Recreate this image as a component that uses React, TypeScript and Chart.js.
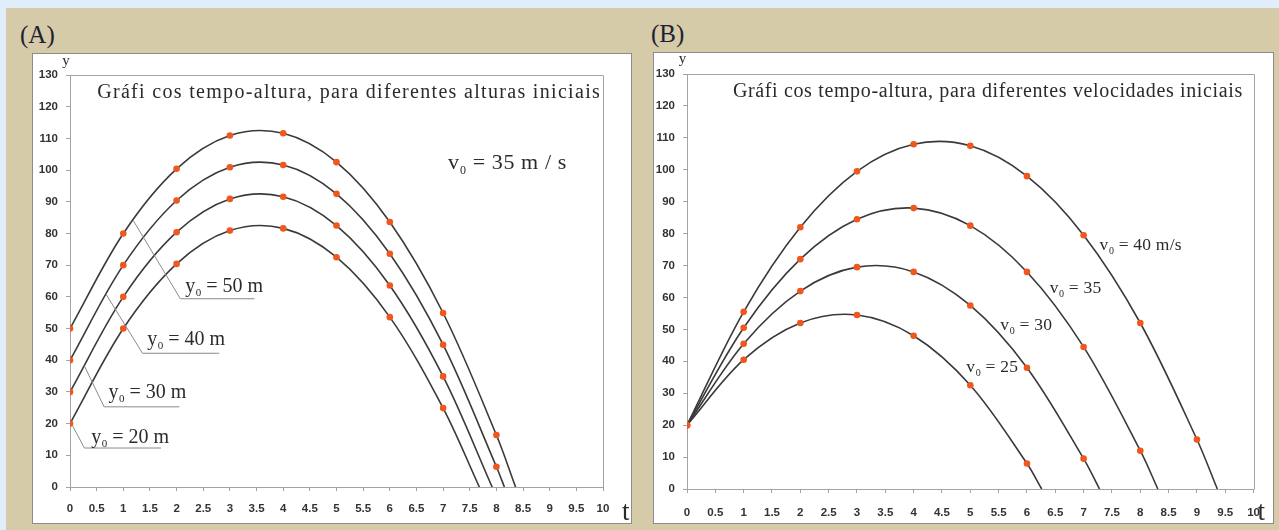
import React, { useEffect, useRef } from "react";
import { Chart, registerables } from "chart.js";

Chart.register(...registerables);

// ---------- data ----------
// Panel A: v0 = 35 m/s, different initial heights
const seriesLabelsA = ["y0 = 50 m", "y0 = 40 m", "y0 = 30 m", "y0 = 20 m"];
const timesA50 = [0, 1, 2, 3, 4, 5, 6, 7, 8, 8.36];
const heightsA50 = [50, 80, 100.4, 110.9, 111.6, 102.5, 83.6, 54.9, 16.4, 0];
const timesA40 = [0, 1, 2, 3, 4, 5, 6, 7, 8, 8.15];
const heightsA40 = [40, 70, 90.4, 100.9, 101.6, 92.5, 73.6, 44.9, 6.4, 0];
const timesA30 = [0, 1, 2, 3, 4, 5, 6, 7, 7.92];
const heightsA30 = [30, 60, 80.4, 90.9, 91.6, 82.5, 63.6, 34.9, 0];
const timesA20 = [0, 1, 2, 3, 4, 5, 6, 7, 7.68];
const heightsA20 = [20, 50, 70.4, 80.9, 81.6, 72.5, 53.6, 24.9, 0];

// Panel B: y0 = 20 m, different initial velocities
const seriesLabelsB = ["v0 = 40 m/s", "v0 = 35", "v0 = 30", "v0 = 25"];
const timesB40 = [0, 1, 2, 3, 4, 5, 6, 7, 8, 9, 9.36];
const heightsB40 = [20, 55.5, 82, 99.5, 108, 107.5, 98, 79.5, 52, 15.5, 0];
const timesB35 = [0, 1, 2, 3, 4, 5, 6, 7, 8, 8.31];
const heightsB35 = [20, 50.5, 72, 84.5, 88, 82.5, 68, 44.5, 12, 0];
const timesB30 = [0, 1, 2, 3, 4, 5, 6, 7, 7.28];
const heightsB30 = [20, 45.5, 62, 69.5, 68, 57.5, 38, 9.5, 0];
const timesB25 = [0, 1, 2, 3, 4, 5, 6, 6.26];
const heightsB25 = [20, 40.5, 52, 54.5, 48, 32.5, 8, 0];

// axes
const xMin = 0;
const xMax = 10;
const xStep = 0.5;
const yMin = 0;
const yMax = 130;
const yStep = 10;

const titleA = "Gráfi cos tempo-altura, para diferentes alturas iniciais";
const titleB = "Gráfi cos tempo-altura, para diferentes velocidades iniciais";

// ---------- styles ----------
const BLUE = "#dfeef8";
const BEIGE = "#d5cba8";
const AXIS = "#a3a3a3";
const CURVE = "#3a3a3a";
const DOT = "#f0561d";
const INK = "#2b2b2b";
const SERIF = '"Liberation Serif", "Times New Roman", serif';
const SANS = '"Liberation Sans", Arial, sans-serif';

type Note =
  | { kind: "text"; t: number; y: number; text: string; size: number; toT: number }
  | { kind: "sub"; t: number; y: number; base: string; sub: string; rest: string; size: number; spacing?: number }
  | { kind: "line"; pts: [number, number][] }
  | { kind: "axisY"; dx: number; dy: number; size: number }
  | { kind: "axisT"; dx: number; dy: number; size: number };

const notesPlugin = {
  id: "notes",
  afterDatasetsDraw(chart: any, _args: any, opts: any) {
    const notes: Note[] = opts.items || [];
    const ctx = chart.ctx as CanvasRenderingContext2D;
    const xs = chart.scales.x;
    const ys = chart.scales.y;
    const area = chart.chartArea;
    ctx.save();
    ctx.fillStyle = INK;
    ctx.textBaseline = "alphabetic";
    ctx.textAlign = "left";
    for (const n of notes) {
      if (n.kind === "line") {
        ctx.strokeStyle = "#8a8a8a";
        ctx.lineWidth = 1;
        ctx.beginPath();
        n.pts.forEach(([t, y], i) => {
          const px = xs.getPixelForValue(t);
          const py = ys.getPixelForValue(y);
          if (i === 0) ctx.moveTo(px, py);
          else ctx.lineTo(px, py);
        });
        ctx.stroke();
      } else if (n.kind === "text") {
        ctx.font = `${n.size}px ${SERIF}`;
        const x0 = xs.getPixelForValue(n.t);
        const x1 = xs.getPixelForValue(n.toT);
        const w = ctx.measureText(n.text).width;
        const sp = Math.max(0, (x1 - x0 - w) / (n.text.length - 1));
        (ctx as any).letterSpacing = `${sp}px`;
        ctx.fillText(n.text, x0, ys.getPixelForValue(n.y));
        (ctx as any).letterSpacing = "0px";
      } else if (n.kind === "sub") {
        let px = xs.getPixelForValue(n.t);
        const py = ys.getPixelForValue(n.y);
        (ctx as any).letterSpacing = `${n.spacing || 0}px`;
        ctx.font = `${n.size}px ${SERIF}`;
        ctx.fillText(n.base, px, py);
        px += ctx.measureText(n.base).width + 0.5;
        ctx.font = `${Math.round(n.size * 0.55)}px ${SERIF}`;
        ctx.fillText(n.sub, px, py + n.size * 0.22);
        px += ctx.measureText(n.sub).width;
        ctx.font = `${n.size}px ${SERIF}`;
        ctx.fillText(n.rest, px, py);
        (ctx as any).letterSpacing = "0px";
      } else if (n.kind === "axisY") {
        ctx.font = `${n.size}px ${SERIF}`;
        ctx.textAlign = "center";
        ctx.fillText("y", area.left + n.dx, area.top + n.dy);
        ctx.textAlign = "left";
      } else if (n.kind === "axisT") {
        ctx.font = `${n.size}px ${SERIF}`;
        ctx.fillText("t", area.right + n.dx, area.bottom + n.dy);
      }
    }
    ctx.restore();
  },
};

const framePlugin = {
  id: "frame",
  beforeDatasetsDraw(chart: any) {
    const ctx = chart.ctx as CanvasRenderingContext2D;
    const a = chart.chartArea;
    ctx.save();
    ctx.strokeStyle = AXIS;
    ctx.lineWidth = 1;
    ctx.beginPath();
    ctx.moveTo(Math.round(a.left) + 0.5, Math.round(a.top) + 0.5);
    ctx.lineTo(Math.round(a.right) + 0.5, Math.round(a.top) + 0.5);
    ctx.lineTo(Math.round(a.right) + 0.5, Math.round(a.bottom) + 0.5);
    ctx.stroke();
    ctx.restore();
  },
};

function curve(label: string, times: number[], heights: number[]) {
  return {
    label,
    data: times.map((t, i) => ({ x: t, y: heights[i] })),
    borderColor: CURVE,
    borderWidth: 1.6,
    tension: 0.34,
    fill: false,
    pointRadius: times.map((_, i) => (i === times.length - 1 ? 0 : 3.3)),
    pointBackgroundColor: DOT,
    pointBorderWidth: 0,
    pointHoverRadius: 0,
  };
}

type Dims = { yw: number; xh: number; top: number; right: number; xPad: number };

function makeConfig(datasets: any[], notes: Note[], d: Dims): any {
  const tickFont = { family: SANS, size: 11.5, weight: "bold" as const };
  return {
    type: "line",
    data: { datasets },
    options: {
      animation: false,
      responsive: false,
      devicePixelRatio: 1,
      events: [],
      layout: { padding: { left: 0, right: d.right, top: d.top, bottom: 0 } },
      scales: {
        x: {
          type: "linear",
          min: xMin,
          max: xMax,
          ticks: {
            stepSize: xStep,
            autoSkip: false,
            maxRotation: 0,
            font: tickFont,
            color: "#333",
            padding: d.xPad,
            callback: (v: any) => String(Math.round(Number(v) * 10) / 10),
          },
          grid: { drawOnChartArea: false, tickLength: 4, color: AXIS },
          border: { color: AXIS, width: 1 },
          afterFit: (s: any) => {
            s.height = d.xh;
          },
        },
        y: {
          type: "linear",
          min: yMin,
          max: yMax,
          ticks: { stepSize: yStep, font: tickFont, color: "#333", padding: 8 },
          grid: { drawOnChartArea: false, tickLength: 4, color: AXIS },
          border: { color: AXIS, width: 1 },
          afterFit: (s: any) => {
            s.width = d.yw;
          },
        },
      },
      plugins: {
        legend: { display: false },
        tooltip: { enabled: false },
        notes: { items: notes },
      },
    },
    plugins: [framePlugin, notesPlugin],
  };
}

const notesA: Note[] = [
  { kind: "text", t: 0.51, y: 122.9, text: titleA, size: 20, toT: 9.94 },
  { kind: "sub", t: 7.09, y: 100.2, base: "v", sub: "0", rest: " = 35 m / s", size: 22, spacing: 0.6 },
  { kind: "line", pts: [[1.19, 84], [2.07, 59.4], [3.46, 59.4]] },
  { kind: "sub", t: 2.16, y: 61.6, base: "y", sub: "0", rest: " = 50 m", size: 20 },
  { kind: "line", pts: [[0.67, 61], [1.36, 42.2], [2.8, 42.2]] },
  { kind: "sub", t: 1.45, y: 44.9, base: "y", sub: "0", rest: " = 40 m", size: 20 },
  { kind: "line", pts: [[0.27, 38.2], [0.64, 25.3], [2.05, 25.3]] },
  { kind: "sub", t: 0.72, y: 28.1, base: "y", sub: "0", rest: " = 30 m", size: 20 },
  { kind: "line", pts: [[0.04, 19.6], [0.27, 12.3], [1.71, 12.3]] },
  { kind: "sub", t: 0.4, y: 13.9, base: "y", sub: "0", rest: " = 20 m", size: 20 },
  { kind: "axisY", dx: -4, dy: -10, size: 15 },
  { kind: "axisT", dx: 19, dy: 33, size: 27 },
];

const notesB: Note[] = [
  { kind: "text", t: 0.81, y: 122.9, text: titleB, size: 20, toT: 9.8 },
  { kind: "sub", t: 7.28, y: 74.8, base: "v", sub: "0", rest: " = 40 m/s", size: 17.5, spacing: 0.2 },
  { kind: "sub", t: 6.4, y: 61.4, base: "v", sub: "0", rest: " = 35", size: 17.5, spacing: 0.2 },
  { kind: "sub", t: 5.53, y: 49.9, base: "v", sub: "0", rest: " = 30", size: 17.5, spacing: 0.2 },
  { kind: "sub", t: 4.93, y: 36.5, base: "v", sub: "0", rest: " = 25", size: 17.5, spacing: 0.2 },
  { kind: "axisY", dx: -4.5, dy: -11, size: 15 },
  { kind: "axisT", dx: 4, dy: 31, size: 27 },
];

function Panel(props: {
  left: number;
  top: number;
  width: number;
  height: number;
  datasets: any[];
  notes: Note[];
  dims: Dims;
}) {
  const ref = useRef<HTMLCanvasElement | null>(null);
  const cw = props.width - 2;
  const ch = props.height - 2;
  useEffect(() => {
    if (!ref.current) return;
    const chart = new Chart(ref.current, makeConfig(props.datasets, props.notes, props.dims));
    return () => chart.destroy();
  }, []);
  return (
    <div
      style={{
        position: "absolute",
        left: props.left,
        top: props.top,
        width: props.width,
        height: props.height,
        boxSizing: "border-box",
        border: "1px solid #8c8c8c",
        background: "#ffffff",
      }}
    >
      <canvas ref={ref} width={cw} height={ch} style={{ display: "block", width: cw, height: ch }} />
    </div>
  );
}

export default function App() {
  const dsA = [
    curve(seriesLabelsA[0], timesA50, heightsA50),
    curve(seriesLabelsA[1], timesA40, heightsA40),
    curve(seriesLabelsA[2], timesA30, heightsA30),
    curve(seriesLabelsA[3], timesA20, heightsA20),
  ];
  const dsB = [
    curve(seriesLabelsB[0], timesB40, heightsB40),
    curve(seriesLabelsB[1], timesB35, heightsB35),
    curve(seriesLabelsB[2], timesB30, heightsB30),
    curve(seriesLabelsB[3], timesB25, heightsB25),
  ];
  const labelStyle: React.CSSProperties = {
    position: "absolute",
    fontFamily: SERIF,
    fontSize: 25,
    lineHeight: "25px",
    color: "#1f2133",
  };
  return (
    <div style={{ position: "absolute", left: 0, top: 0, width: 1279, height: 530, background: BLUE, overflow: "hidden" }}>
      <div style={{ position: "absolute", left: 6, top: 8, right: 0, bottom: 0, background: BEIGE }} />
      <div style={{ ...labelStyle, left: 20, top: 22 }}>(A)</div>
      <div style={{ ...labelStyle, left: 651, top: 21 }}>(B)</div>
      <Panel left={32} top={53} width={600} height={471} datasets={dsA} notes={notesA}
        dims={{ yw: 37, xh: 36, top: 21, right: 28, xPad: 11 }} />
      <Panel left={653} top={52} width={621} height={472} datasets={dsB} notes={notesB}
        dims={{ yw: 33, xh: 34, top: 21, right: 17, xPad: 13 }} />
    </div>
  );
}
